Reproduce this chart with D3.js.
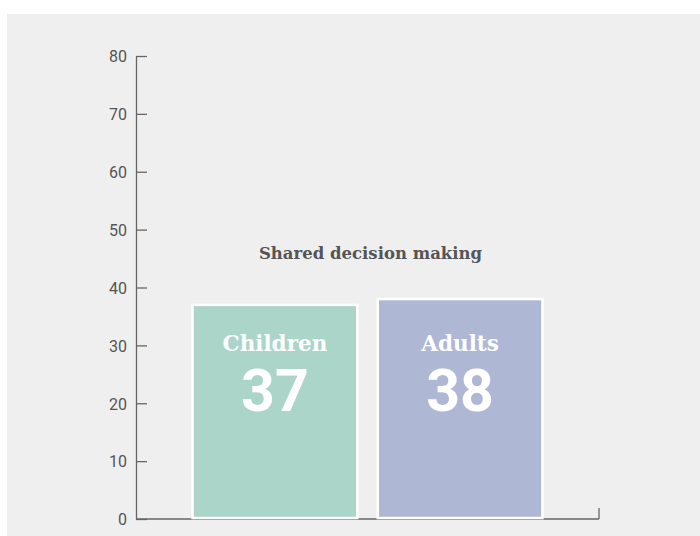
<!DOCTYPE html>
<html>
<head>
<meta charset="utf-8">
<script src="https://cdn.jsdelivr.net/npm/d3@7"></script>
<style>
  html, body { margin: 0; padding: 0; background: #ffffff; }
  svg { display: block; }
</style>
</head>
<body>
<svg id="chart" width="700" height="536"></svg>
<script>
// Shared decision making scores by group
const categories = ["Children", "Adults"];
const values = [37, 38];
const colors = ["#acd5c9", "#aeb7d4"];
const yTicks = [0, 10, 20, 30, 40, 50, 60, 70, 80];
const chartTitle = "Shared decision making";

const svg = d3.select("#chart");
const W = 700, H = 536;

// panel background
svg.append("rect")
  .attr("x", 7).attr("y", 14)
  .attr("width", W - 7).attr("height", H - 14)
  .attr("fill", "#efefef");

const plotLeft = 136, plotRight = 599, plotTop = 56, plotBottom = 519;

const y = d3.scaleLinear().domain([0, 80]).range([plotBottom, plotTop]);
const x = d3.scaleBand().domain(categories).range([plotLeft, plotRight])
  .paddingInner(0.1).paddingOuter(0.3);

const axisColor = "#666";
const tickFont = "Roboto, 'Noto Sans', sans-serif";

// y axis with ticks pointing into the plot
const yAxis = svg.append("g")
  .attr("transform", `translate(${plotLeft},0)`)
  .call(d3.axisRight(y).tickValues(yTicks).tickSize(11).tickSizeOuter(0));
yAxis.select(".domain").attr("stroke", axisColor).attr("stroke-width", 1.3);
yAxis.selectAll(".tick line").attr("stroke", axisColor).attr("stroke-width", 1.3);
yAxis.selectAll(".tick text")
  .attr("text-anchor", "end")
  .attr("x", -9)
  .attr("dy", "0.36em")
  .attr("fill", "#555")
  .style("font-family", tickFont)
  .style("font-size", "16px");

// baseline with a closing tick at the right end
svg.append("line")
  .attr("x1", plotLeft).attr("x2", plotRight)
  .attr("y1", y(0)).attr("y2", y(0))
  .attr("stroke", axisColor).attr("stroke-width", 1.3);
svg.append("line")
  .attr("x1", plotRight).attr("x2", plotRight)
  .attr("y1", y(0)).attr("y2", y(0) - 11)
  .attr("stroke", axisColor).attr("stroke-width", 1.3);

// title above the bars
svg.append("text")
  .attr("x", (plotLeft + plotRight) / 2 + 3)
  .attr("y", 259)
  .attr("text-anchor", "middle")
  .attr("fill", "#555")
  .style("font-family", "'DejaVu Serif', 'Liberation Serif', serif")
  .style("font-weight", "bold")
  .style("font-size", "16.5px")
  .text(chartTitle);

const data = categories.map((c, i) => ({ c, v: values[i], col: colors[i] }));

// bars
svg.selectAll("rect.bar")
  .data(data)
  .join("rect")
  .attr("class", "bar")
  .attr("x", d => x(d.c) + 1)
  .attr("width", x.bandwidth() - 2)
  .attr("y", d => y(d.v))
  .attr("height", d => y(0) - y(d.v) - 1)
  .attr("fill", d => d.col)
  .attr("stroke", "#ffffff")
  .attr("stroke-width", 2.5);

// labels sit in one row across the bars
const nameY = y(0) - 168.5;
const valueY = y(0) - 108.5;

// category names inside bars
svg.selectAll("text.cat")
  .data(data)
  .join("text")
  .attr("class", "cat")
  .attr("x", d => x(d.c) + x.bandwidth() / 2)
  .attr("y", nameY)
  .attr("text-anchor", "middle")
  .attr("fill", "#ffffff")
  .style("font-family", "'DejaVu Serif', 'Liberation Serif', serif")
  .style("font-weight", "bold")
  .style("font-size", "21.5px")
  .text(d => d.c);

// values inside bars
svg.selectAll("text.val")
  .data(data)
  .join("text")
  .attr("class", "val")
  .attr("x", d => x(d.c) + x.bandwidth() / 2)
  .attr("y", valueY)
  .attr("text-anchor", "middle")
  .attr("fill", "#ffffff")
  .style("font-family", "Roboto, sans-serif")
  .style("font-weight", "bold")
  .style("font-size", "59px")
  .text(d => d.v);
</script>
</body>
</html>
